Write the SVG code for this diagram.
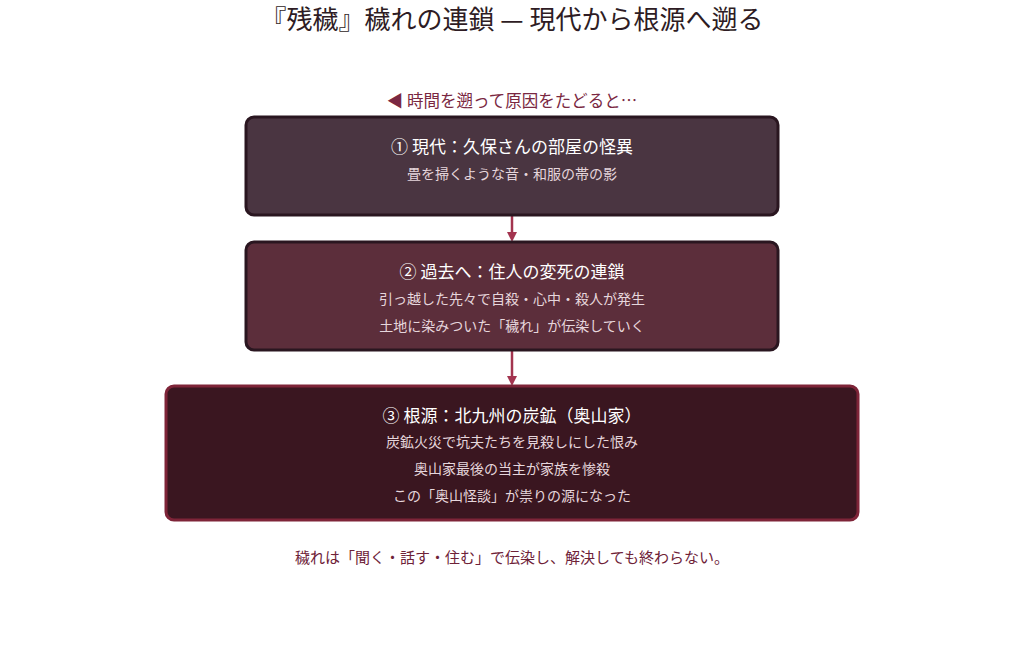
<svg xmlns="http://www.w3.org/2000/svg" width="1024" height="665" viewBox="0 0 1024 665">
<defs>
<style>
text{font-family:"Noto Sans CJK JP","Noto Sans",sans-serif;text-anchor:middle}
.title{font-size:26px;fill:#2e1c24}
.note{font-size:16.5px;fill:#7a2842}
.foot{font-size:15px;fill:#6e2238}
.h{font-size:17px;fill:#ffffff}
.s{font-size:14px;fill:#e6d6dc}
.conn{stroke:#a3344f;stroke-width:2.5;fill:none}
</style>
<marker id="ah" markerWidth="10" markerHeight="10" refX="6" refY="5" orient="auto" markerUnits="userSpaceOnUse">
<path d="M0,0 L10,5 L0,10 Z" fill="#a3344f"/>
</marker>
</defs>
<rect width="1024" height="665" fill="#ffffff"/>
<text class="title" x="512" y="29">『残穢』穢れの連鎖 — 現代から根源へ遡る</text>
<text class="note" x="512" y="107">◀ 時間を遡って原因をたどると…</text>
<g id="connectors">
<line class="conn" x1="512" y1="216" x2="512" y2="238" marker-end="url(#ah)"/>
<line class="conn" x1="512" y1="351" x2="512" y2="382" marker-end="url(#ah)"/>
</g>
<g id="node1">
<rect x="246" y="117" width="532" height="98" rx="8" fill="#4a3541" stroke="#2a1620" stroke-width="3"/>
<text class="h" x="512" y="153">① 現代：久保さんの部屋の怪異</text>
<text class="s" x="512" y="179">畳を掃くような音・和服の帯の影</text>
</g>
<g id="node2">
<rect x="246" y="242" width="532" height="108" rx="8" fill="#5c2e3b" stroke="#2a1620" stroke-width="3"/>
<text class="h" x="512" y="278">② 過去へ：住人の変死の連鎖</text>
<text class="s" x="512" y="304">引っ越した先々で自殺・心中・殺人が発生</text>
<text class="s" x="512" y="331">土地に染みついた「穢れ」が伝染していく</text>
</g>
<g id="node3">
<rect x="166" y="386" width="692" height="134" rx="8" fill="#3a1620" stroke="#7e2438" stroke-width="3"/>
<text class="h" x="512" y="422">③ 根源：北九州の炭鉱（奥山家）</text>
<text class="s" x="512" y="447">炭鉱火災で坑夫たちを見殺しにした恨み</text>
<text class="s" x="512" y="474">奥山家最後の当主が家族を惨殺</text>
<text class="s" x="512" y="501">この「奥山怪談」が祟りの源になった</text>
</g>
<text class="foot" x="512" y="563">穢れは「聞く・話す・住む」で伝染し、解決しても終わらない。</text>
</svg>
